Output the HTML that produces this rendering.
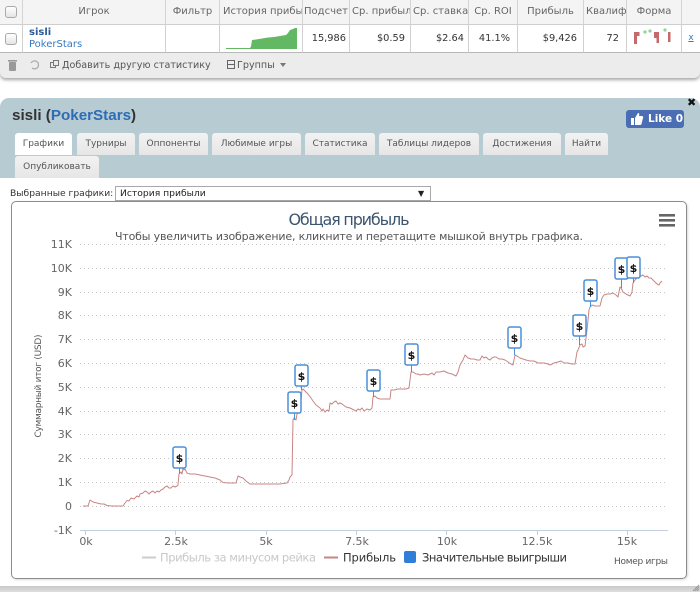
<!DOCTYPE html>
<html><head><meta charset="utf-8">
<style>
*{margin:0;padding:0;box-sizing:border-box}
html,body{width:700px;height:592px;overflow:hidden;background:#fff;font-family:"DejaVu Sans","Liberation Sans",sans-serif;}
.a{position:absolute}
#tbl{left:0;top:0;width:700px;height:78px;background:#ececec;border-radius:0 0 6px 6px;box-shadow:0 2px 3px rgba(0,0,0,.35)}
.hd{top:0;height:25px;background:#f4f4f4;border-bottom:1px solid #cfcfcf;border-right:1px solid #d4d4d4;font-size:10px;color:#666;line-height:23px;text-align:center;overflow:hidden;white-space:nowrap}
.dc{top:25px;height:28px;background:#fff;border-bottom:1px solid #b8b8b8;border-right:1px solid #d0d0d0;font-size:9.8px;color:#333;line-height:27px;text-align:right;overflow:hidden;white-space:nowrap}
.cb{width:12px;height:12px;border:1px solid #aaa;border-radius:3px;background:linear-gradient(#fff,#e4e4e4)}
.tb{font-size:9.6px;color:#555;top:60px;line-height:12px;white-space:nowrap}
#panel{left:0;top:98px;width:700px;height:80px;background:#b7cbd3;border-radius:9px 9px 0 0}
.tab{height:22px;background:linear-gradient(#f2f2f2,#e6e6e6);border-radius:3px 3px 0 0;font-size:9px;color:#555;text-align:center;line-height:22px;white-space:nowrap}
</style></head><body>

<!-- top table -->
<div id="tbl" class="a"></div>
<div class="a hd" style="left:0;width:23px"></div>
<div class="a hd" style="left:23px;width:143px">Игрок</div>
<div class="a hd" style="left:166px;width:54px">Фильтр</div>
<div class="a hd" style="left:220px;width:83px;text-align:left;padding-left:3px">История прибыли</div>
<div class="a hd" style="left:303px;width:47px">Подсчет</div>
<div class="a hd" style="left:350px;width:61px;text-align:left;padding-left:2px">Ср. прибыль</div>
<div class="a hd" style="left:411px;width:58px;text-align:left;padding-left:2px">Ср. ставка</div>
<div class="a hd" style="left:469px;width:49px">Ср. ROI</div>
<div class="a hd" style="left:518px;width:66px">Прибыль</div>
<div class="a hd" style="left:584px;width:43px;text-align:left;padding-left:2px">Квалификация</div>
<div class="a hd" style="left:627px;width:55px">Форма</div>
<div class="a hd" style="left:682px;width:18px;border-right:none"></div>
<div class="a cb" style="left:5px;top:6px"></div>

<div class="a dc" style="left:0;width:23px"></div>
<div class="a dc" style="left:23px;width:143px;text-align:left;padding-left:6px;line-height:12px;padding-top:2px">
 <div style="color:#2b5a96;font-weight:bold;font-size:10px">sisli</div>
 <div style="color:#3a78c0;font-size:10px">PokerStars</div>
</div>
<div class="a dc" style="left:166px;width:54px"></div>
<div class="a dc" style="left:220px;width:83px"></div>
<div class="a dc" style="left:303px;width:47px;padding-right:3px">15,986</div>
<div class="a dc" style="left:350px;width:61px;padding-right:5px">$0.59</div>
<div class="a dc" style="left:411px;width:58px;padding-right:4px">$2.64</div>
<div class="a dc" style="left:469px;width:49px;padding-right:7px">41.1%</div>
<div class="a dc" style="left:518px;width:66px;padding-right:6px">$9,426</div>
<div class="a dc" style="left:584px;width:43px;padding-right:7px">72</div>
<div class="a dc" style="left:627px;width:55px"></div>
<div class="a dc" style="left:682px;width:18px;border-right:none;text-align:center;color:#3a78c0;text-decoration:underline;font-size:9px;padding:0">x</div>
<div class="a cb" style="left:5px;top:33px"></div>

<svg class="a" style="left:0;top:0" width="700" height="80">
 <!-- sparkline -->
 <path d="M226,49 L226,48 L250,48 L251,46.5 L252,40 L256,39.5 L262,38.5 L268,37.5 L274,37 L280,36 L286,35 L288,33 L290,30 L293,29 L295,28 L297,28 L297,49 Z" fill="#63b963"/>
 <!-- form bars -->
 <rect x="634" y="32" width="3" height="12" fill="#c46a6a"/>
 <rect x="637" y="32" width="2.5" height="4" fill="#c46a6a"/>
 <circle cx="645" cy="32" r="1.6" fill="#8fd48f"/>
 <circle cx="650" cy="31" r="1.6" fill="#8fd48f"/>
 <rect x="654" y="32" width="2.5" height="6" fill="#c46a6a"/>
 <rect x="656.5" y="32" width="2.5" height="11" fill="#c46a6a"/>
 <circle cx="665" cy="30" r="1.6" fill="#8fd48f"/>
 <rect x="668" y="32" width="2.5" height="10" fill="#c46a6a"/>
 <!-- toolbar icons -->
 <rect x="9" y="62" width="7" height="9" rx="1" fill="#999"/>
 <rect x="8" y="60" width="9" height="1.6" fill="#999"/>
 <path d="M31,63 a4,4 0 1,1 1,5" fill="none" stroke="#aaa" stroke-width="1.2"/>
 <rect x="50.5" y="62.5" width="5" height="5" fill="none" stroke="#777"/>
 <rect x="53.5" y="60.5" width="5" height="5" fill="#ececec" stroke="#777"/>
 <rect x="227.5" y="60.5" width="7" height="8" fill="none" stroke="#666"/>
 <line x1="227.5" y1="64.5" x2="234.5" y2="64.5" stroke="#666"/>
 <path d="M280,63 L286,63 L283,67 Z" fill="#777"/>
</svg>
<div class="a tb" style="left:62px">Добавить другую статистику</div>
<div class="a tb" style="left:237px">Группы</div>

<!-- panel -->
<div id="panel" class="a"></div>
<div class="a" style="left:0;top:178px;width:700px;height:408px;background:#fff"></div>
<div class="a" style="left:0;top:586px;width:700px;height:6px;background:linear-gradient(#c9c9c9,#dedede)"></div>
<div class="a" style="left:12px;top:107px;font-family:'Liberation Sans',sans-serif;font-weight:bold;font-size:15.2px;color:#333;line-height:17px;white-space:nowrap">sisli (<span style="color:#2d6db5">PokerStars</span>)</div>
<div class="a" style="left:626px;top:110px;width:58px;height:18px;background:#4a6db3;border-radius:3px"></div>
<svg class="a" style="left:630px;top:112px" width="14" height="14"><path d="M1,6 h3 v7 h-3z M5,6 l3,-5 c1.5,0 1.5,1.5 1,3 h3 c1,0 1.5,1 1,2 l-1.5,6 c-0.3,1 -1,1 -2,1 h-4.5z" fill="#fff"/></svg>
<div class="a" style="left:648px;top:113px;font-size:10.5px;font-weight:bold;color:#fff;line-height:12px;white-space:nowrap">Like 0</div>
<div class="a" style="left:687px;top:97px;font-size:11px;font-weight:bold;color:#111;line-height:12px">✖</div>

<div class="a tab" style="left:15px;top:133px;width:57px;background:#fff">Графики</div>
<div class="a tab" style="left:77px;top:133px;width:58px">Турниры</div>
<div class="a tab" style="left:139px;top:133px;width:69px">Оппоненты</div>
<div class="a tab" style="left:212px;top:133px;width:89px">Любимые игры</div>
<div class="a tab" style="left:305px;top:133px;width:70px">Статистика</div>
<div class="a tab" style="left:379px;top:133px;width:100px">Таблицы лидеров</div>
<div class="a tab" style="left:483px;top:133px;width:78px">Достижения</div>
<div class="a tab" style="left:565px;top:133px;width:43px">Найти</div>
<div class="a tab" style="left:15px;top:156px;width:84px">Опубликовать</div>

<div class="a" style="left:10px;top:188px;font-size:9.2px;color:#333;line-height:12px;white-space:nowrap">Выбранные графики:</div>
<div class="a" style="left:115px;top:186px;width:316px;height:15px;border:1px solid #a8a8a8;background:#fff;font-size:9.2px;color:#222;line-height:13px;padding-left:4px;white-space:nowrap">История прибыли<span style="position:absolute;left:302px;top:0;font-size:8px">▼</span></div>

<!-- chart box -->
<div class="a" style="left:11px;top:201px;width:676px;height:378px;border:1px solid #8c8c8c;border-radius:5px;box-shadow:1px 1px 2px rgba(0,0,0,.15)"></div>

<svg class="a" style="left:0;top:0" width="700" height="592" font-family="DejaVu Sans, Liberation Sans, sans-serif">
 <g stroke="#c4c4c4" stroke-width="1" stroke-dasharray="1,3">
  <line x1="80" y1="244.5" x2="668" y2="244.5"/>
  <line x1="80" y1="268.5" x2="668" y2="268.5"/>
  <line x1="80" y1="292.5" x2="668" y2="292.5"/>
  <line x1="80" y1="315.5" x2="668" y2="315.5"/>
  <line x1="80" y1="339.5" x2="668" y2="339.5"/>
  <line x1="80" y1="363.5" x2="668" y2="363.5"/>
  <line x1="80" y1="387.5" x2="668" y2="387.5"/>
  <line x1="80" y1="411.5" x2="668" y2="411.5"/>
  <line x1="80" y1="434.5" x2="668" y2="434.5"/>
  <line x1="80" y1="458.5" x2="668" y2="458.5"/>
  <line x1="80" y1="482.5" x2="668" y2="482.5"/>
  <line x1="80" y1="506.5" x2="668" y2="506.5"/>
 </g>
 <line x1="80" y1="530.5" x2="668" y2="530.5" stroke="#c0d0e0"/>
 <g stroke="#c0d0e0">
  <line x1="85.5" y1="530" x2="85.5" y2="535"/>
  <line x1="175.5" y1="530" x2="175.5" y2="535"/>
  <line x1="266.5" y1="530" x2="266.5" y2="535"/>
  <line x1="356.5" y1="530" x2="356.5" y2="535"/>
  <line x1="446.5" y1="530" x2="446.5" y2="535"/>
  <line x1="537.5" y1="530" x2="537.5" y2="535"/>
  <line x1="627.5" y1="530" x2="627.5" y2="535"/>
 </g>
 <g font-size="11" fill="#666" text-anchor="end">
  <text x="72" y="248">11K</text>
  <text x="72" y="272">10K</text>
  <text x="72" y="296">9K</text>
  <text x="72" y="319">8K</text>
  <text x="72" y="343">7K</text>
  <text x="72" y="367">6K</text>
  <text x="72" y="391">5K</text>
  <text x="72" y="415">4K</text>
  <text x="72" y="438">3K</text>
  <text x="72" y="462">2K</text>
  <text x="72" y="486">1K</text>
  <text x="72" y="510">0</text>
  <text x="72" y="534">-1K</text>
 </g>
 <g font-size="11" fill="#666" text-anchor="middle">
  <text x="86" y="545">0k</text>
  <text x="176" y="545">2.5k</text>
  <text x="266" y="545">5k</text>
  <text x="357" y="545">7.5k</text>
  <text x="447" y="545">10k</text>
  <text x="537" y="545">12.5k</text>
  <text x="627" y="545">15k</text>
 </g>
 <text x="349" y="225" font-size="16" fill="#3d5670" text-anchor="middle" textLength="121">Общая прибыль</text>
 <text x="349" y="240" font-size="11" fill="#555" text-anchor="middle" textLength="468">Чтобы увеличить изображение, кликните и перетащите мышкой внутрь графика.</text>
 <g fill="#666"><rect x="659" y="214" width="16" height="2.6"/><rect x="659" y="219" width="16" height="2.6"/><rect x="659" y="224" width="16" height="2.6"/></g>
 <text transform="translate(41,386) rotate(-90)" font-size="9" fill="#555" text-anchor="middle" textLength="103">Суммарный итог (USD)</text>

 <polyline fill="none" stroke="#c98585" stroke-width="1" stroke-linejoin="round" points="83,506 88,506 90,500 93,502 97,503 101,504 104,504 107,505.5 112,506 118,506 123,506 125,503 127,500.5 129,501 131,498 134,499 137,496 139,497 140,494 143,493 145,491 147,492 149,494 151,492 153,491 155,493 157,491 159,492 161,490 163,489 165,487 167,486 169,488 171,488 173,486 175,487 177,486 178,485 179,474 181,472 182,474 183,468 184,470 185,469 187,473 190,474 195,474 200,475 205,476 210,477 215,478 220,480 223,482.5 228,483 236,483 238,476 240,477 243,478 246,481 250,484 260,484 270,484 280,484 287,483 289,480 290,477 292,475 293,420 294,418 296,420 297,414 298,412 300,410 302,390 303,389 305,391 308,394 311,398 313,401 316,405 320,408 322,411 323,409 325,412 327,410 329,411 330,403 332,404 334,402 336,401 338,404 340,403 342,404 346,407 350,408 356,411 358,409 360,410 362,408 364,411 367,409 370,410 372,408 373,397 375,396 377,398 380,399 385,399 390,399 391,390 394,390 398,389 400,389 403,389 406,389 409,388 411,372 413,372 416,374 418,374 420,375 424,374 428,375 432,373 434,375 436,372 440,372 444,371 448,373 452,374 456,376 458,372 460,365 463,360 465,355 468,358 471,359 474,359 477,360 480,360 482,356 484,358 486,357 488,359 490,360 492,358 494,357 496,357 499,359 502,359 505,360 508,362 511,364 513,365 515,355 517,356 520,358 523,359 526,360 530,361 534,361 538,363 540,363 544,363 548,364 550,365 554,363 558,362 561,361 564,363 568,363 572,364 575,364 577,352 578,350 580,345 582,344 583,347 585,346 586,338 587,330 589,310 590,307 592,305 595,306 598,306 600,306 602,298 604,295 607,294 610,294 613,293 616,295 618,297 620,287 621,288 623,292 626,294 628,295 630,296 632,292 633,283 635,280 637,278 639,277 641,276 643,275 645,277 647,276 649,278 651,278 653,280 655,282 657,284 659,285 660,283 662,281"/>

 <g stroke="#4a8fd8" stroke-width="1">
  <line x1="179.5" y1="468" x2="179.5" y2="474"/>
  <line x1="294.5" y1="413" x2="294.5" y2="420"/>
  <line x1="301.5" y1="386" x2="301.5" y2="390"/>
  <line x1="373.5" y1="391" x2="373.5" y2="397"/>
  <line x1="411.5" y1="365" x2="411.5" y2="372"/>
  <line x1="514.5" y1="348" x2="514.5" y2="355"/>
  <line x1="579.5" y1="336" x2="579.5" y2="345"/>
  <line x1="590.5" y1="301" x2="590.5" y2="307"/>
  <line x1="621.5" y1="279" x2="621.5" y2="288"/>
  <line x1="633.5" y1="278" x2="633.5" y2="283"/>
 </g>
 <g fill="#fff" stroke="#4a8fd8" stroke-width="1.5">
  <rect x="173" y="447" width="13" height="21" rx="2"/>
  <rect x="288" y="392" width="13" height="21" rx="2"/>
  <rect x="295" y="365" width="13" height="21" rx="2"/>
  <rect x="367" y="370" width="13" height="21" rx="2"/>
  <rect x="405" y="344" width="13" height="21" rx="2"/>
  <rect x="508" y="327" width="13" height="21" rx="2"/>
  <rect x="573" y="315" width="13" height="21" rx="2"/>
  <rect x="584" y="280" width="13" height="21" rx="2"/>
  <rect x="615" y="258" width="13" height="21" rx="2"/>
  <rect x="627" y="257" width="13" height="21" rx="2"/>
 </g>
 <g font-size="11" font-weight="bold" fill="#111" text-anchor="middle">
  <text x="179.5" y="462">$</text>
  <text x="294.5" y="407">$</text>
  <text x="301.5" y="380">$</text>
  <text x="373.5" y="385">$</text>
  <text x="411.5" y="359">$</text>
  <text x="514.5" y="342">$</text>
  <text x="579.5" y="330">$</text>
  <text x="590.5" y="295">$</text>
  <text x="621.5" y="273">$</text>
  <text x="633.5" y="272">$</text>
 </g>

 <!-- legend -->
 <line x1="142" y1="557.5" x2="156" y2="557.5" stroke="#cccccc" stroke-width="2"/>
 <text x="160" y="561.5" font-size="11.5" fill="#c8c8c8" textLength="156">Прибыль за минусом рейка</text>
 <line x1="324" y1="557.5" x2="338" y2="557.5" stroke="#c98585" stroke-width="2"/>
 <text x="343" y="561.5" font-size="11.5" fill="#333" textLength="53">Прибыль</text>
 <rect x="404" y="551" width="12" height="12" rx="2" fill="#2f7ed8"/>
 <text x="422" y="561.5" font-size="11.5" fill="#333" textLength="145">Значительные выигрыши</text>
 <text x="614" y="564" font-size="9" fill="#555" textLength="54">Номер игры</text>

 <g stroke="#999" stroke-width="1">
  <line x1="693" y1="591" x2="699" y2="585"/>
  <line x1="695" y1="591" x2="699" y2="587"/>
  <line x1="697" y1="591" x2="699" y2="589"/>
 </g>
</svg>
</body></html>
